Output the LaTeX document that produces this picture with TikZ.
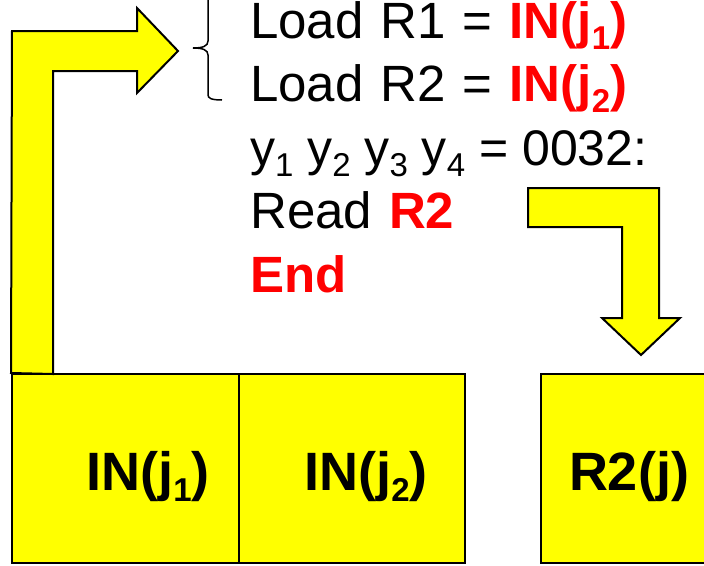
\documentclass[tikz,border=0pt]{standalone}
\usepackage{fontspec}
\setmainfont{Liberation Sans}
\newcommand\mysub[1]{\raisebox{-0.22em}{\fontsize{33}{33}\selectfont #1}}
\newcommand\wsp{\hspace{17pt}}
\definecolor{ylw}{RGB}{255,255,0}
\definecolor{rd}{RGB}{255,0,0}
\begin{document}
\begin{tikzpicture}[x=1pt,y=1pt,
  cell/.style={draw=black,line width=2pt,fill=ylw,minimum height=189pt,inner sep=0pt},
  lbl/.style={font=\fontsize{54}{60}\selectfont\bfseries,anchor=base,inner sep=0pt},
  codeline/.style={font=\fontsize{51}{60}\selectfont,anchor=base west,inner sep=0pt},
  blockarrow/.style={draw=black,line width=2pt,fill=ylw,line join=miter},
  hot/.style={text=rd,font=\bfseries}]
\useasboundingbox (0,0) rectangle (704,-565);
\clip (0,0) rectangle (704,-565);
% boxes
\node[cell,minimum width=227pt] (b1) at (125.5,-468.5) {};
\node[cell,minimum width=226pt] (b2) at (352,-468.5) {};
\node[cell,minimum width=180pt] (b3) at (631,-468.5) {};
\node[lbl] (t1) at (148,-490) {IN(j\mysub{1})};
\node[lbl] (t2) at (366,-490) {IN(j\mysub{2})};
\node[lbl] (t3) at (629,-490) {R2(j)};
% up/right block arrow
\draw[blockarrow] (b1.north west) -- (12,-31) -- (137,-31) -- (137,-8) -- (178,-51)
  -- (137,-93) -- (137,-71) -- (53,-71) -- (53,-374) -- cycle;
% brace
\draw[line width=1.5pt] (221,14) .. controls (212,14) and (208,11) .. (208,4) -- (208,-41)
  .. controls (208,-46) and (203,-48) .. (193,-48)
  .. controls (203,-48) and (208,-50) .. (208,-55) -- (208,-95)
  .. controls (208,-98) and (211,-100) .. (222,-100);
% code lines
\node[codeline] (l1) at (250,-38) {Load\wsp R1\wsp=\wsp\textcolor{rd}{\bfseries IN(j\mysub{1})}};
\node[codeline] (l2) at (250,-101) {Load\wsp R2\wsp=\wsp\textcolor{rd}{\bfseries IN(j\mysub{2})}};
\node[codeline,font=\fontsize{50}{60}\selectfont] (l3) at (250,-165) {y\mysub{1} y\mysub{2} y\mysub{3} y\mysub{4} = 0032:};
\node[codeline] (l4) at (250,-228) {Read\wsp\textcolor{rd}{\bfseries R2}};
\node[codeline] (l5) at (250,-292) {\textcolor{rd}{\bfseries End}};
% right/down block arrow
\draw[blockarrow] (528,-188) -- (659,-188) -- (659,-318) -- (680,-318) -- (641,-355)
  -- (602,-318) -- (622,-318) -- (622,-227) -- (528,-227) -- cycle;
\end{tikzpicture}
\end{document}
